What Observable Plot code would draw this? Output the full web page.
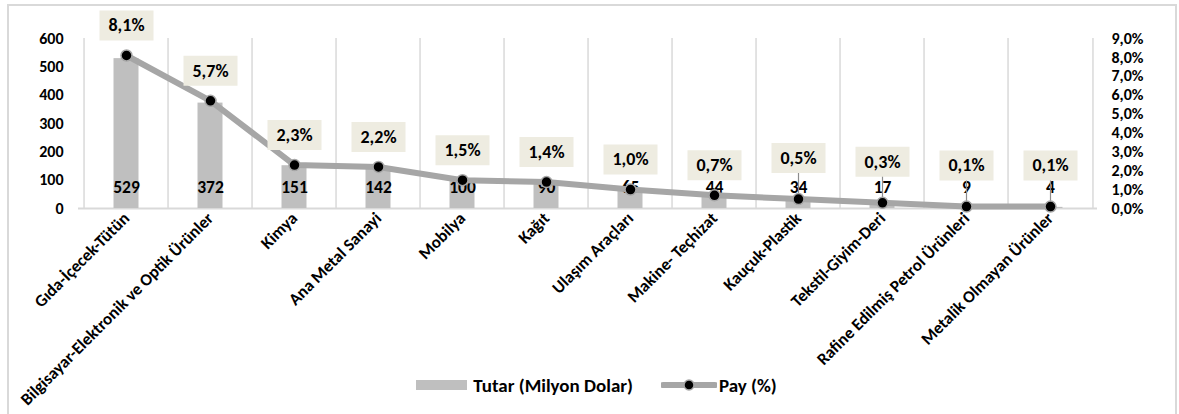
<!DOCTYPE html>
<html>
<head>
<meta charset="utf-8">
<script src="https://cdn.jsdelivr.net/npm/d3@7"></script>
<script src="https://cdn.jsdelivr.net/npm/@observablehq/plot@0.6"></script>
<style>
  html, body { margin: 0; padding: 0; background: #fff; }
  body { font-family: Carlito, Lato, "Open Sans", sans-serif; color: #000; }
  #frame { position: absolute; left: 7px; top: 4px; width: 1170px; height: 440px; border: 2px solid #d9d9d9; box-sizing: border-box; background: #fff; }
  #chart { position: absolute; left: 0; top: 0; width: 1179px; }
  #chart svg text { font-weight: 700; }
  #legend { position: absolute; left: 7px; top: 372px; width: 1179px; height: 26px; display: flex; justify-content: center; align-items: center; font-weight: 700; font-size: 19px; }
  #legend .bar { display: inline-block; width: 51px; height: 10px; background: #bfbfbf; margin-right: 6px; }
  #legend .gap { display: inline-block; width: 28px; }
  #legend svg { margin-right: 2px; }
</style>
</head>
<body>
<div id="frame"></div>
<div id="chart"></div>
<div id="legend">
  <span class="bar"></span><span>Tutar (Milyon Dolar)</span><span class="gap"></span>
  <svg width="56" height="14"><line x1="2" y1="7" x2="54" y2="7" stroke="#a6a6a6" stroke-width="6" stroke-linecap="round"></line><circle cx="28" cy="7" r="5" fill="#000" stroke="#a6a6a6" stroke-width="1.5"></circle></svg><span>Pay (%)</span>
</div>
<script>
const categories = [
  "Gıda-İçecek-Tütün",
  "Bilgisayar-Elektronik ve Optik Ürünler",
  "Kimya",
  "Ana Metal Sanayi",
  "Mobilya",
  "Kağıt",
  "Ulaşım Araçları",
  "Makine- Teçhizat",
  "Kauçuk-Plastik",
  "Tekstil-Giyim-Deri",
  "Rafine Edilmiş Petrol Ürünleri",
  "Metalik Olmayan Ürünler"
];
const amounts = [529, 372, 151, 142, 100, 90, 65, 44, 34, 17, 9, 4];
const shares = [8.1, 5.7, 2.3, 2.2, 1.5, 1.4, 1.0, 0.7, 0.5, 0.3, 0.1, 0.1];
const leftTicks = [0, 100, 200, 300, 400, 500, 600];
const rightTicks = [0, 1, 2, 3, 4, 5, 6, 7, 8, 9];

const data = categories.map((c, i) => ({category: c, amount: amounts[i], share: shares[i]}));
// labels of the smallest shares sit higher above their point, with a leader line (as in the original)
const high = data.filter(d => d.share >= 0.7);
const low = data.filter(d => d.share < 0.7);

const W = 1179, ML = 78, MR = 82;
const bw = (W - ML - MR) / categories.length;
const k = 600 / 9; // share (%) -> left-axis units
const fmtPct = v => (Math.round(v * 10) / 10).toFixed(1).replace(".", ",") + "%";
const boxSymbol = {draw(ctx) { ctx.rect(-27, -15, 54, 30); }};
const leaderSymbol = {draw(ctx) { ctx.moveTo(0, 0); ctx.lineTo(0, -28); }};

const shareY = d => d.share * k;
const labelMarks = (rows, dy) => [
  Plot.dot(rows, {x: "category", y: shareY, dy, symbol: boxSymbol, r: 10, fill: "#eeece1", stroke: "none"}),
  Plot.text(rows, {x: "category", y: shareY, dy, text: d => fmtPct(d.share), fontSize: 18, fill: "#000"})
];

const plot = Plot.plot({
  width: W,
  height: 372,
  marginLeft: ML,
  marginRight: MR,
  marginTop: 38,
  marginBottom: 164,
  style: {fontFamily: "Carlito, Lato, 'Open Sans', sans-serif", overflow: "visible", background: "transparent", color: "#000"},
  x: {domain: categories, padding: 0, label: null},
  y: {domain: [0, 600], label: null},
  marks: [
    Plot.ruleX(categories, {x: d => d, dx: -bw / 2, y1: 0, y2: 600, stroke: "#d9d9d9", strokeWidth: 1.5}),
    Plot.ruleX([categories[categories.length - 1]], {x: d => d, dx: bw / 2, y1: 0, y2: 600, stroke: "#d9d9d9", strokeWidth: 1.5}),
    Plot.ruleY([0], {stroke: "#d9d9d9", strokeWidth: 2}),
    Plot.barY(data, {x: "category", y: "amount", fill: "#bfbfbf", insetLeft: 29.5, insetRight: 29.5}),
    Plot.text(data, {x: "category", y: () => 0, dy: -21, text: d => String(d.amount), fontSize: 17.5, fill: "#000"}),
    Plot.line(data, {x: "category", y: shareY, stroke: "#a6a6a6", strokeWidth: 6}),
    Plot.dot(low, {x: "category", y: shareY, symbol: leaderSymbol, r: 5, fill: "none", stroke: "#8c8c8c", strokeWidth: 1.2}),
    Plot.dot(data, {x: "category", y: shareY, r: 5.5, fill: "#000", stroke: "#a6a6a6", strokeWidth: 1.5}),
    ...labelMarks(high, -30),
    ...labelMarks(low, -41),
    Plot.axisY(leftTicks, {anchor: "left", tickSize: 0, tickPadding: 15, fontSize: 16, label: null}),
    Plot.axisY(rightTicks.map(p => p * k), {anchor: "right", tickSize: 0, tickPadding: 14, fontSize: 16, tickFormat: v => fmtPct(v / k), label: null}),
    Plot.axisX({tickRotate: -45, tickSize: 0, tickPadding: 7, fontSize: 17, label: null})
  ]
});
document.getElementById("chart").appendChild(plot);
</script>
</body>
</html>
